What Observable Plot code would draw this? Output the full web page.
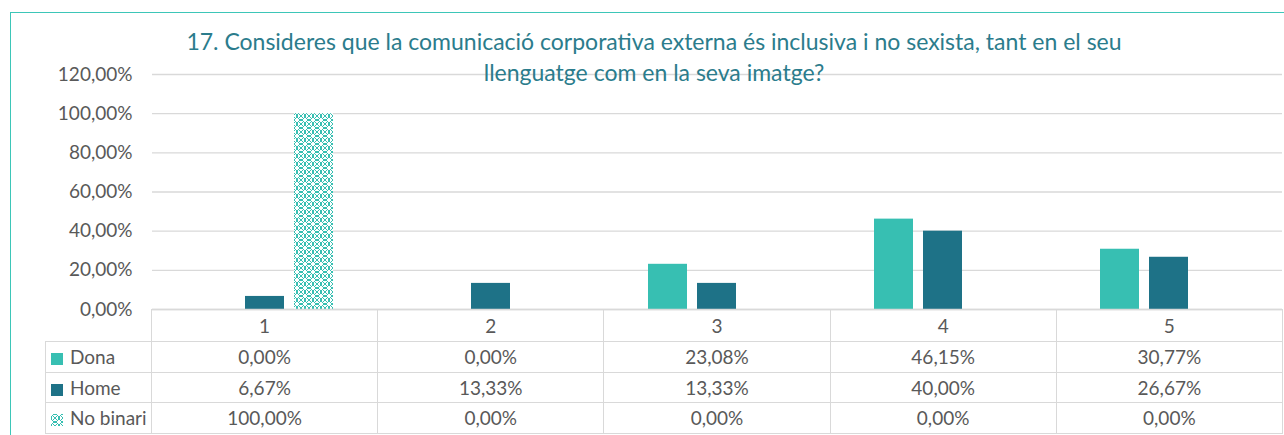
<!DOCTYPE html>
<html>
<head>
<meta charset="utf-8">
<script src="https://cdn.jsdelivr.net/npm/d3@7"></script>
<script src="https://cdn.jsdelivr.net/npm/@observablehq/plot@0.6"></script>
<style>
  html, body { margin:0; padding:0; background:#fff; }
  #wrap { position:relative; width:1284px; height:435px; overflow:hidden; font-family: Lato, "Open Sans", sans-serif; color:#595959; }
  #frame { position:absolute; left:10px; top:12px; right:-5px; bottom:-5px; border-left:1.5px solid #3DC6B8; border-top:1.5px solid #3DC6B8; }
  #chart { position:absolute; left:0; top:0; }
  #title { position:absolute; left:104px; width:1100px; top:26px; text-align:center; color:#2B7C8C; font-size:23px; line-height:31px; }
  #tbl { position:absolute; left:45px; top:309px; border-collapse:collapse; table-layout:fixed; font-size:19px; color:#595959; }
  #tbl td { border:1.5px solid #D9D9D9; padding:0; text-align:center; white-space:nowrap; }
  #tbl tr.hd td { height:31px; }
  #tbl tr.row td { height:29.5px; }
  #tbl td.lab { text-align:left; padding-left:5px; }
  #tbl td.blank { border-top:none; border-left:none; }
  .key { display:inline-block; width:12px; height:12px; margin-right:7px; vertical-align:-1px; }
</style>
</head>
<body>
<div id="wrap">
  <div id="frame"></div>
  <div id="chart"></div>
  <div id="title">17. Consideres que la comunicació corporativa externa és inclusiva i no sexista, tant en el seu<br>llenguatge com en la seva imatge?</div>
  <table id="tbl"></table>
</div>
<script>
const categories = ["1", "2", "3", "4", "5"];
const series = ["Dona", "Home", "No binari"];
const dona = [0, 0, 23.08, 46.15, 30.77];
const home = [6.67, 13.33, 13.33, 40.00, 26.67];
const noBinari = [100, 0, 0, 0, 0];
const yTicks = [0, 20, 40, 60, 80, 100, 120];
const colors = ["#37BFB2", "#1E7287", "url(#nbpat)"];

const values = [dona, home, noBinari];
const data = [];
series.forEach((s, i) => categories.forEach((c, j) => data.push({cat: c, series: s, value: values[i][j]})));

const fmt = d => d.toFixed(2).replace(".", ",") + "%";

function defs() {
  const g = d3.create("svg:defs");
  const p = g.append("pattern").attr("id", "nbpat").attr("patternUnits", "userSpaceOnUse")
    .attr("width", 8).attr("height", 8);
  p.append("rect").attr("width", 8).attr("height", 8).attr("fill", "#fff");
  const px = [[2,0],[3,0],[4,0],[5,0],[1,1],[6,1],[0,2],[7,2],[0,3],[7,3],[0,4],[7,4],[0,5],[7,5],[1,6],[6,6],[2,7],[3,7],[4,7],[5,7],[3,3],[4,4],[3,4],[4,3],[2,2],[5,5],[5,2],[2,5]];
  px.forEach(([x, y]) => p.append("rect").attr("x", x).attr("y", y).attr("width", 1).attr("height", 1).attr("fill", "#37BFB2"));
  return g.node();
}

const chart = Plot.plot({
  width: 1284,
  height: 320,
  marginLeft: 151,
  marginRight: 2,
  marginTop: 74,
  marginBottom: 11,
  style: {fontFamily: "Lato, 'Open Sans', sans-serif", fontSize: "19px", color: "#595959", background: "transparent", overflow: "visible"},
  fx: {domain: categories, padding: 0, axis: null, label: null},
  x: {domain: series, paddingInner: 0.2, paddingOuter: 0.862, axis: null},
  y: {domain: [0, 120], label: null, axis: null},
  color: {domain: series, range: colors},
  marks: [
    defs,
    Plot.gridY(yTicks, {stroke: "#D9D9D9", strokeOpacity: 1, strokeWidth: 1.3}),
    Plot.axisY(yTicks, {tickSize: 0, tickPadding: 20, tickFormat: fmt, fill: "#595959", fontSize: 19, label: null}),
    Plot.barY(data, {fx: "cat", x: "series", y: "value", fill: "series"}),
    Plot.ruleY([0], {stroke: "#D9D9D9", strokeWidth: 1.5})
  ]
});
document.getElementById("chart").appendChild(chart);

// data table
const tbl = d3.select("#tbl");
const cg = tbl.append("colgroup");
cg.append("col").style("width", "106px");
categories.forEach(() => cg.append("col").style("width", "226.2px"));
const hd = tbl.append("tr").attr("class", "hd");
hd.append("td").attr("class", "blank");
categories.forEach(c => hd.append("td").text(c));
series.forEach((s, i) => {
  const tr = tbl.append("tr").attr("class", "row");
  const lab = tr.append("td").attr("class", "lab");
  if (i < 2) {
    lab.append("span").attr("class", "key").style("background", colors[i]);
  } else {
    const sv = lab.append("svg").attr("width", 12).attr("height", 12).style("margin-right", "7px").style("vertical-align", "-1px");
    sv.append("rect").attr("width", 12).attr("height", 12).attr("fill", "url(#nbpat)");
  }
  lab.append("span").text(s);
  values[i].forEach(v => tr.append("td").text(fmt(v)));
});
</script>
</body>
</html>
